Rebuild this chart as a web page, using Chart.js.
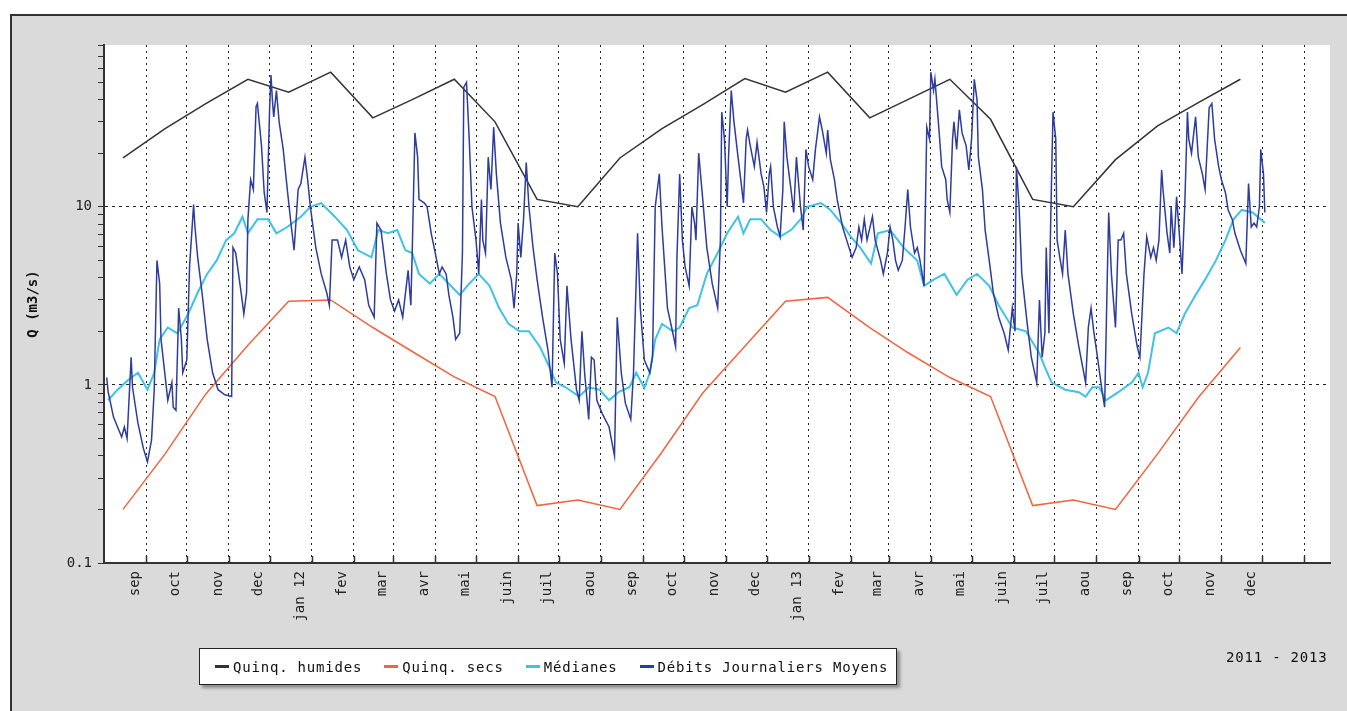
<!DOCTYPE html>
<html>
<head>
<meta charset="utf-8">
<title>Débits 2011 - 2013</title>
<script src="https://cdn.jsdelivr.net/npm/chart.js@4.4.1/dist/chart.umd.min.js"></script>
<style>
  body { margin: 0; background: #fff; width: 1347px; height: 711px; overflow: hidden; }
  #frame {
    position: absolute; left: 10px; top: 14px; width: 1337px; height: 697px;
    background: #dadada; border-top: 2px solid #333; border-left: 2px solid #333;
  }
  #chart { position: absolute; left: 0; top: 0; }
  #legend {
    position: absolute; left: 199px; top: 648px; width: 698px; height: 37px;
    box-sizing: border-box; background: #fff; border: 1px solid #222;
    box-shadow: 3px 3px 3px #8a8a8a;
    display: flex; align-items: center; padding-left: 15px;
    font: 14px "DejaVu Sans Mono", monospace; letter-spacing: 0.8px; color: #111;
  }
  #legend .item { display: flex; align-items: center; margin-right: 22px; white-space: nowrap; }
  #legend .item i { display: inline-block; width: 14px; height: 3px; margin-right: 4px; }
  #period {
    position: absolute; left: 1226px; top: 649px; line-height: 18px;
    font: 14px "DejaVu Sans Mono", monospace; letter-spacing: 0.8px; color: #111;
  }
</style>
</head>
<body>
<div id="frame"></div>
<canvas id="chart" width="1347" height="711"></canvas>
<div id="legend"></div>
<div id="period">2011 - 2013</div>

<script>
// Origine des jours : 1er août 2011
const START = "2011-08-01";

// Axe des mois (un trait au 1er de chaque mois à partir de septembre 2011)
const monthLabels = ["sep", "oct", "nov", "dec", "jan 12", "fev", "mar", "avr", "mai", "juin", "juil", "aou",
  "sep", "oct", "nov", "dec", "jan 13", "fev", "mar", "avr", "mai", "juin", "juil", "aou",
  "sep", "oct", "nov", "dec", ""];

// Graduations de l'axe Q (log)
const yMajor = [0.1, 1, 10];
const yMax = 81;

// Quinquennales (valeurs mensuelles, au 15 du mois)
const quinqDates = ["2011-08-15", "2011-09-15", "2011-10-15", "2011-11-15", "2011-12-15", "2012-01-15",
  "2012-02-15", "2012-03-15", "2012-04-15", "2012-05-15", "2012-06-15", "2012-07-15",
  "2012-08-15", "2012-09-15", "2012-10-15", "2012-11-15", "2012-12-15", "2013-01-15",
  "2013-02-15", "2013-03-15", "2013-04-15", "2013-05-15", "2013-06-15", "2013-07-15",
  "2013-08-15", "2013-09-15", "2013-10-15", "2013-11-15"];
const quinqHumides = [18.8, 27.5, 38, 52, 44, 57, 31.6, 40, 52, 30, 11, 10,
  18.8, 27.5, 37.5, 52.5, 44, 57, 31.6, 40, 52, 31, 11, 10,
  18.4, 28.5, 38.5, 52];
const quinqSecs = [0.2, 0.41, 0.89, 1.67, 2.95, 3.0, 2.1, 1.54, 1.11, 0.86, 0.21, 0.226,
  0.2, 0.42, 0.9, 1.65, 2.95, 3.1, 2.1, 1.52, 1.1, 0.86, 0.21, 0.226,
  0.2, 0.41, 0.85, 1.62];

// Médianes (jours depuis le 1er août 2011)
const medianDays = [3, 10, 18, 25, 32, 37, 41, 47, 54, 62, 69, 76, 83, 90, 96, 102, 106, 113, 121, 127,
  135, 145, 152, 160, 170, 179, 187, 197, 202, 209, 216, 222, 227, 232, 240, 247, 254, 262, 269, 276,
  284, 291, 298, 306, 313, 321, 328, 333, 340, 350, 357, 365, 372, 379, 387, 392, 398, 402, 406, 411,
  419, 424, 431, 437, 444, 452, 459, 467, 471, 476, 484, 491, 498, 506, 513, 518, 528, 535, 543, 550,
  557, 565, 570, 579, 589, 599, 604, 611, 619, 628, 636, 643, 652, 659, 669, 679, 689, 693, 698, 708,
  718, 723, 728, 733, 738, 747, 757, 762, 765, 769, 774, 784, 790, 796, 804, 811, 819, 826, 832, 838,
  846, 855];
const medianValues = [0.82, 0.94, 1.07, 1.17, 0.94, 1.17, 1.8, 2.1, 1.95, 2.5, 3.3, 4.2, 5.0, 6.5, 7.1, 8.8, 7.1, 8.5, 8.5, 7.1,
  7.7, 8.8, 10, 10.5, 8.8, 7.4, 5.7, 5.2, 7.4, 7.1, 7.4, 5.7, 5.5, 4.2, 3.7, 4.2, 3.7, 3.2, 3.7, 4.2,
  3.6, 2.7, 2.2, 2.0, 2.0, 1.64, 1.26, 1.03, 0.97, 0.86, 0.97, 0.94, 0.82, 0.91, 0.97, 1.17, 0.96, 1.17, 1.8, 2.2,
  2.0, 2.1, 2.7, 2.8, 4.2, 5.5, 7.1, 8.8, 7.1, 8.5, 8.5, 7.4, 6.8, 7.4, 8.5, 10, 10.5, 9.6, 8.1, 6.8,
  5.9, 4.8, 7.1, 7.4, 5.9, 5.0, 3.6, 3.9, 4.2, 3.2, 3.9, 4.2, 3.6, 2.8, 2.1, 2.0, 1.5, 1.26, 1.03, 0.94,
  0.91, 0.86, 0.97, 0.97, 0.82, 0.91, 1.03, 1.17, 0.97, 1.17, 1.95, 2.1, 1.95, 2.5, 3.2, 3.9, 5.0, 6.5, 8.5, 9.6,
  9.3, 8.1];

// Débits journaliers moyens (jours depuis le 1er août 2011)
const flowDays = [2, 3, 7, 10, 13, 15, 17, 20, 21, 25, 29, 32, 35, 37, 39, 41, 42, 47, 50, 51,
  53, 55, 57, 58, 61, 63, 66, 67, 69, 72, 76, 80, 84, 89, 94, 95, 97, 101, 103, 105,
  106, 108, 110, 112, 113, 116, 118, 120, 122, 123, 124, 125, 127, 129, 132, 135, 138, 140, 143, 145,
  148, 150, 152, 156, 160, 164, 166, 168, 172, 175, 178, 181, 184, 188, 192, 195, 199, 201, 204, 208,
  211, 214, 217, 220, 224, 226, 227, 229, 231, 232, 236, 238, 241, 244, 247, 249, 252, 254, 257, 259,
  262, 264, 265, 267, 269, 271, 274, 276, 278, 279, 281, 283, 285, 287, 289, 292, 296, 300, 302, 304,
  305, 307, 309, 311, 313, 316, 319, 323, 327, 330, 332, 334, 336, 339, 341, 344, 348, 350, 352, 354,
  357, 359, 361, 363, 367, 372, 376, 378, 381, 384, 388, 390, 393, 395, 398, 402, 404, 406, 409, 411,
  415, 419, 421, 422, 424, 426, 428, 431, 433, 435, 436, 438, 441, 444, 448, 452, 454, 455, 457, 459,
  460, 462, 464, 467, 469, 471, 473, 474, 476, 479, 481, 484, 486, 488, 490, 491, 493, 496, 498, 500,
  501, 503, 506, 508, 510, 513, 515, 517, 519, 522, 524, 527, 529, 532, 533, 535, 538, 540, 544, 547,
  551, 554, 556, 558, 560, 562, 566, 568, 572, 574, 577, 579, 581, 583, 585, 588, 590, 592, 594, 597,
  599, 601, 604, 605, 606, 608, 609, 611, 612, 615, 617, 620, 621, 623, 625, 626, 628, 630, 632, 635,
  637, 639, 641, 643, 644, 647, 649, 652, 655, 659, 663, 666, 669, 671, 672, 674, 676, 680, 683, 687,
  689, 691, 693, 694, 696, 697, 698, 699, 701, 702, 704, 706, 708, 710, 714, 718, 723, 725, 727, 729,
  731, 735, 737, 739, 740, 742, 745, 747, 749, 751, 753, 757, 761, 763, 766, 768, 771, 773, 775, 777,
  779, 780, 783, 785, 786, 788, 790, 792, 794, 796, 798, 799, 801, 804, 806, 809, 811, 814, 816, 818,
  821, 823, 826, 828, 831, 833, 837, 841, 843, 845, 847, 849, 851, 852, 854, 855];
const flowValues = [1.1, 0.92, 0.66, 0.58, 0.51, 0.58, 0.5, 1.43, 0.97, 0.61, 0.44, 0.37, 0.49, 0.94, 5.0, 3.7, 1.8, 0.82, 1.03, 0.75,
  0.72, 2.7, 1.8, 1.17, 1.38, 4.6, 10.3, 7.7, 5.2, 3.4, 1.8, 1.17, 0.94, 0.88, 0.86, 5.9, 5.5, 3.3, 2.5, 3.3,
  8.5, 14.2, 12.5, 36.5, 38, 22, 12, 9.3, 36, 55, 40, 32, 45, 30, 21, 12.5, 7.7, 5.7, 12.5, 13.5,
  19, 14.2, 10, 5.9, 4.2, 3.3, 2.8, 6.5, 6.5, 5.2, 6.5, 4.6, 3.9, 4.6, 3.9, 2.8, 2.4, 8.1, 7.4, 4.2,
  3.0, 2.6, 3.0, 2.4, 4.4, 2.8, 5.5, 26, 19, 11, 10.5, 10, 7.1, 5.5, 4.2, 4.6, 4.2, 3.2, 2.4, 1.8,
  1.95, 5.5, 47, 50, 24, 10, 6.5, 4.2, 11, 6.5, 5.5, 19, 12.5, 28, 15.3, 8.1, 5.2, 3.9, 2.7, 4.2,
  8.1, 5.2, 8.5, 17.7, 10, 5.9, 3.9, 2.4, 1.57, 0.97, 5.5, 4.2, 1.8, 1.32, 3.6, 1.8, 0.94, 0.82, 2.0, 1.17,
  0.64, 1.43, 1.38, 0.82, 0.69, 0.58, 0.40, 2.4, 1.17, 0.79, 0.64, 1.17, 7.1, 2.7, 1.38, 1.17, 1.43, 10, 15.3, 7.7,
  2.7, 1.95, 1.64, 5.2, 15.3, 6.5, 4.6, 3.6, 10, 8.1, 6.5, 20, 11, 5.9, 3.7, 2.7, 6.5, 34, 24, 10,
  19, 45, 30, 19, 14.2, 10.5, 24, 27, 22, 16.8, 23, 15.3, 13, 9.3, 15.3, 16.8, 10, 7.7, 6.8, 12.5,
  30, 19, 12.5, 9.3, 19, 10, 7.4, 21, 16.8, 14.2, 21, 32, 27, 20, 27, 18.4, 14.2, 11, 7.7, 6.5,
  5.2, 5.9, 7.7, 6.5, 8.5, 6.5, 8.8, 6.5, 5.0, 4.2, 5.5, 7.7, 6.5, 5.0, 4.4, 5.0, 7.7, 12.5, 7.7, 5.5,
  5.9, 5.0, 3.6, 10, 28, 24, 57, 45, 52, 27, 16.8, 14.2, 11, 9.3, 24, 30, 21, 35, 26, 22,
  16.1, 24, 52, 40, 19, 12.5, 7.4, 5.0, 3.3, 2.4, 1.95, 1.57, 2.7, 2.0, 16.8, 10, 4.2, 2.2, 1.43, 1.03,
  3.0, 1.43, 1.95, 5.9, 1.95, 6.5, 15.3, 34, 24, 6.5, 5.2, 4.2, 7.4, 4.2, 2.5, 1.64, 1.03, 2.1, 2.7, 2.0,
  1.57, 0.94, 0.75, 4.2, 9.3, 4.2, 2.1, 6.5, 6.5, 7.1, 4.2, 2.5, 1.64, 1.43, 4.2, 6.8, 5.2, 5.9, 5.0, 6.5,
  16.1, 12.5, 7.1, 5.5, 10, 5.9, 11.4, 7.1, 4.2, 10, 34, 24, 20, 32, 19, 15.3, 12.5, 36, 38, 24,
  16.8, 14.2, 12, 9.6, 8.5, 7.1, 5.7, 4.8, 13.5, 7.7, 8.1, 7.7, 10, 21, 15.3, 9.3];

// Conversion date -> jours depuis START
function dayOf(dateStr) {
  return (Date.parse(dateStr) - Date.parse(START)) / 864e5;
}

const monthTicks = monthLabels.map((_, i) => dayOf(new Date(Date.UTC(2011, 8 + i, 1)).toISOString().slice(0, 10)));

const yTicks = [];
yMajor.forEach((d) => {
  for (let k = 1; k <= 9; k++) {
    const v = +(d * k).toPrecision(3);
    if (v <= yMax) yTicks.push(v);
  }
});

const monoFont = "'DejaVu Sans Mono', monospace";

// Fond blanc de la zone de tracé
const plotBackground = {
  id: "plotBackground",
  beforeDraw(chart) {
    const { ctx, chartArea } = chart;
    ctx.save();
    ctx.fillStyle = "#ffffff";
    ctx.fillRect(chartArea.left, chartArea.top, chartArea.right - chartArea.left, chartArea.bottom - chartArea.top);
    ctx.restore();
  },
};

// Petits traits des mois, tournés vers l'intérieur
const innerTicks = {
  id: "innerTicks",
  beforeDatasetsDraw(chart) {
    const { ctx, chartArea, scales } = chart;
    ctx.save();
    ctx.strokeStyle = "#333";
    ctx.lineWidth = 1.5;
    scales.x.ticks.forEach((t) => {
      const px = Math.round(scales.x.getPixelForValue(t.value)) + 0.5;
      ctx.beginPath();
      ctx.moveTo(px, chartArea.bottom);
      ctx.lineTo(px, chartArea.bottom - 7);
      ctx.stroke();
    });
    ctx.restore();
  },
};

const ctx = document.getElementById("chart").getContext("2d");
const chart = new Chart(ctx, {
  type: "line",
  data: {
    datasets: [
      {
        label: "Quinq. humides",
        data: quinqDates.map((d, i) => ({ x: dayOf(d), y: quinqHumides[i] })),
        borderColor: "#333333",
        borderWidth: 1.5,
        order: 4,
      },
      {
        label: "Quinq. secs",
        data: quinqDates.map((d, i) => ({ x: dayOf(d), y: quinqSecs[i] })),
        borderColor: "#f2643f",
        borderWidth: 1.5,
        order: 3,
      },
      {
        label: "Médianes",
        data: medianDays.map((d, i) => ({ x: d, y: medianValues[i] })),
        borderColor: "#3ec2e6",
        borderWidth: 2,
        order: 2,
      },
      {
        label: "Débits Journaliers Moyens",
        data: flowDays.map((d, i) => ({ x: d, y: flowValues[i] })),
        borderColor: "#2e3c9e",
        borderWidth: 1.5,
        order: 1,
      },
    ],
  },
  options: {
    responsive: false,
    animation: false,
    devicePixelRatio: 1,
    layout: { padding: { top: 45, right: 17, left: 0, bottom: 0 } },
    elements: { point: { radius: 0 }, line: { tension: 0 } },
    plugins: { legend: { display: false }, tooltip: { enabled: false } },
    scales: {
      x: {
        type: "linear",
        min: 0,
        max: 903,
        afterFit: (s) => { s.height = 148; },
        afterBuildTicks: (s) => { s.ticks = monthTicks.map((v) => ({ value: v })); },
        ticks: {
          autoSkip: false,
          minRotation: 90,
          maxRotation: 90,
          labelOffset: -11,
          padding: 8,
          color: "#222",
          font: { family: monoFont, size: 14 },
          callback: (v, i) => monthLabels[i],
        },
        grid: {
          color: "#222",
          lineWidth: 1,
          tickBorderDash: [],
          drawTicks: false,
        },
        // en v4 le pointillé des lignes de grille vient de border.dash
        border: { color: "#333", width: 2, dash: [2, 4] },
      },
      y: {
        type: "logarithmic",
        min: 0.1,
        max: yMax,
        afterFit: (s) => { s.width = 104; },
        afterBuildTicks: (s) => { s.ticks = yTicks.map((v) => ({ value: v, major: yMajor.includes(v) })); },
        ticks: {
          autoSkip: false,
          padding: 6,
          color: "#222",
          font: { family: monoFont, size: 14 },
          callback: (v) => (yMajor.includes(v) ? String(v) : ""),
        },
        grid: {
          color: (c) => (c.tick && yMajor.includes(c.tick.value) ? "#222" : "rgba(0,0,0,0)"),
          tickColor: "#333",
          tickLength: 6,
          lineWidth: 1,
          tickBorderDash: [],
        },
        border: { color: "#333", width: 2, dash: [3, 4] },
        title: {
          display: true,
          text: "Q (m3/s)",
          color: "#111",
          font: { family: monoFont, size: 14, weight: "bold" },
          padding: { top: 25, bottom: 0 },
        },
      },
    },
  },
  plugins: [plotBackground, innerTicks],
});

// Légende construite à partir des séries
const legendBox = document.getElementById("legend");
chart.data.datasets.forEach((ds) => {
  const item = document.createElement("span");
  item.className = "item";
  item.innerHTML = `<i style="background:${ds.borderColor}"></i>${ds.label}`;
  legendBox.appendChild(item);
});
</script>
</body>
</html>
